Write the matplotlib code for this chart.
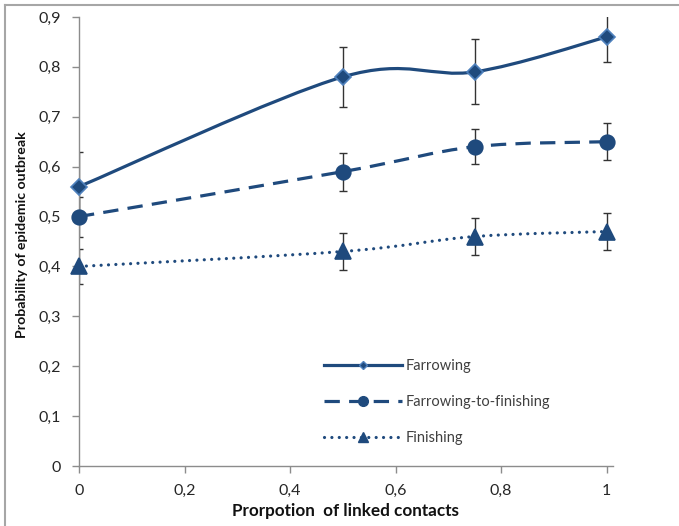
import matplotlib
matplotlib.use("Agg")
import matplotlib.pyplot as plt
from matplotlib.path import Path
from matplotlib.patches import PathPatch
from matplotlib.lines import Line2D
from matplotlib.ticker import FuncFormatter, MultipleLocator

plt.rcParams['font.family'] = ['Lato', 'DejaVu Sans']

# data
proportion = [0, 0.5, 0.75, 1]
farrowing = [0.56, 0.78, 0.79, 0.86]
farrowing_err = [0.07, 0.06, 0.065, 0.05]
farr_to_fin = [0.50, 0.59, 0.64, 0.65]
farr_to_fin_err = [0.04, 0.038, 0.035, 0.037]
finishing = [0.40, 0.43, 0.46, 0.47]
finishing_err = [0.035, 0.037, 0.038, 0.037]

col = '#1f4a7d'
edge_light = '#4f81bd'


def smooth_path(xs, ys):
    # excel style smoothed line: cubic bezier through the points
    pts = list(zip(xs, ys))
    verts = [pts[0]]
    codes = [Path.MOVETO]
    n = len(pts)
    for i in range(n - 1):
        p0 = pts[i - 1] if i > 0 else pts[i]
        p1 = pts[i]
        p2 = pts[i + 1]
        p3 = pts[i + 2] if i + 2 < n else pts[i + 1]
        c1 = (p1[0] + (p2[0] - p0[0]) / 6, p1[1] + (p2[1] - p0[1]) / 6)
        c2 = (p2[0] - (p3[0] - p1[0]) / 6, p2[1] - (p3[1] - p1[1]) / 6)
        verts += [c1, c2, p2]
        codes += [Path.CURVE4] * 3
    return Path(verts, codes)


def fit_text(t, length_px):
    # scale font so the label is as long as in the original
    r = fig.canvas.get_renderer()
    bb = t.get_window_extent(r)
    cur = max(bb.width, bb.height)
    t.set_fontsize(t.get_fontsize() * length_px / cur)


fig = plt.figure(figsize=(6.79, 5.26), dpi=100)
ax = fig.add_axes([79 / 679, 1 - 466 / 526, 534 / 679, 449 / 526])

styles = [
    (farrowing, farrowing_err, '-', 'D', 8.5, edge_light, None),
    (farr_to_fin, farr_to_fin_err, (0, (4.8, 2.9)), 'o', 10.5, col, 'butt'),
    (finishing, finishing_err, (0, (0.01, 2.3)), '^', 11, col, 'round'),
]
for ys, err, ls, mk, ms, mec, cap in styles:
    ax.errorbar(proportion, ys, yerr=err, fmt='none', ecolor='#333333',
                elinewidth=1, capsize=3, capthick=1, zorder=2)
    patch = PathPatch(smooth_path(proportion, ys), facecolor='none', edgecolor=col,
                      lw=2.3, linestyle=ls, zorder=3)
    if cap:
        patch.set_capstyle(cap)
    ax.add_patch(patch)
    ax.plot(proportion, ys, linestyle='none', marker=mk, ms=ms, mfc=col, mec=mec,
            mew=1.2, zorder=4, clip_on=False)

ax.set_xlim(0, 1.012)
ax.set_ylim(0, 0.9)
ax.xaxis.set_major_locator(MultipleLocator(0.2))
ax.yaxis.set_major_locator(MultipleLocator(0.1))
fmt = FuncFormatter(lambda v, p: ('%g' % round(v, 2)).replace('.', ','))
ax.xaxis.set_major_formatter(fmt)
ax.yaxis.set_major_formatter(fmt)

for s in ['top', 'right']:
    ax.spines[s].set_visible(False)
for s in ['left', 'bottom']:
    ax.spines[s].set_color('#8c8c8c')
    ax.spines[s].set_linewidth(1)
ax.tick_params(axis='both', length=5, width=1, color='#8c8c8c', labelsize=11.5,
               labelcolor='#262626', pad=8)

xl = fig.text(345 / 679, 1 - 511 / 526, 'Prorpotion  of linked contacts', fontsize=11,
              fontweight='bold', ha='center', va='center', color='#111111')
yl = fig.text(22 / 679, 1 - 235 / 526, 'Probability of epidemic outbreak', fontsize=9,
              fontweight='bold', rotation=90, ha='center', va='center', color='#111111')
fit_text(xl, 226)
fit_text(yl, 205)

handles = [
    Line2D([], [], color=col, lw=2.3, ls='-', marker='D', ms=4.5, mfc=col, mec=edge_light),
    Line2D([], [], color=col, lw=2.3, ls=(0, (4.8, 2.9)), marker='o', ms=7, mfc=col, mec=col),
    Line2D([], [], color=col, lw=2.3, ls=(0, (0.01, 2.3)), dash_capstyle='round',
           marker='^', ms=7, mfc=col, mec=col),
]
ax.legend(handles, ['Farrowing', 'Farrowing-to-finishing', 'Finishing'],
          loc='upper left', bbox_to_anchor=(317 / 679, 1 - 352 / 526),
          bbox_transform=fig.transFigure, frameon=False, fontsize=10.5,
          handlelength=5.3, handletextpad=0.3, labelspacing=1.5, borderpad=0,
          labelcolor='#404040')

# outer border of the original chart area
fig.add_artist(Line2D([5 / 679, 5 / 679], [0, 1 - 5 / 526], transform=fig.transFigure,
                      color='#a6a6a6', lw=1.5))
fig.add_artist(Line2D([5 / 679, 1], [1 - 5 / 526, 1 - 5 / 526], transform=fig.transFigure,
                      color='#a6a6a6', lw=1.5))

fig.savefig('out.png', dpi=100)
